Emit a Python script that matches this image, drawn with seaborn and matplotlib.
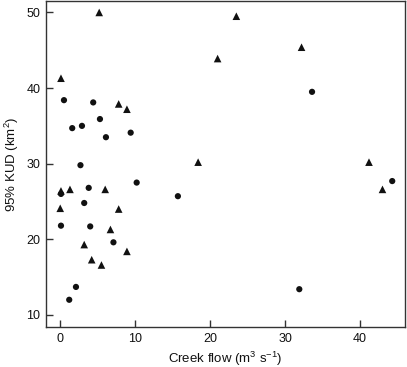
import matplotlib
matplotlib.use("Agg")
import matplotlib.pyplot as plt
import seaborn as sns
import pandas as pd

# Triangles (series A)
tri_x = [5.2, 23.5, 0.1, 32.2, 21.0, 7.8, 8.9, 18.4, 41.2, 43.0, 0.0, 1.3, 6.0,
         7.8, 6.7, 3.2, 8.9, 4.2, 5.5, 0.1]
tri_y = [50.0, 49.5, 41.3, 45.4, 43.9, 37.9, 37.2, 30.2, 30.2, 26.6, 24.1, 26.6, 26.6,
         24.0, 21.3, 19.3, 18.4, 17.3, 16.6, 26.4]
# Circles (series B)
cir_x = [0.5, 4.4, 5.3, 1.6, 2.9, 6.1, 9.4, 2.7, 10.2, 3.8, 3.2, 0.1, 0.1, 4.0,
         7.1, 2.1, 1.2, 15.7, 33.6, 44.3, 31.9]
cir_y = [38.4, 38.1, 35.9, 34.7, 35.0, 33.5, 34.1, 29.8, 27.5, 26.8, 24.8, 26.0, 21.8, 21.7,
         19.6, 13.7, 12.0, 25.7, 39.5, 27.7, 13.4]

x_ticks = [0, 10, 20, 30, 40]
y_ticks = [10, 20, 30, 40, 50]

sns.set_style("white")
plt.rcParams['font.family'] = ['Liberation Sans', 'DejaVu Sans']
plt.rcParams['mathtext.default'] = 'regular'

df = pd.DataFrame({
    "flow": tri_x + cir_x,
    "kud": tri_y + cir_y,
    "group": ["A"] * len(tri_x) + ["B"] * len(cir_x),
})

fig = plt.figure(figsize=(4.07, 3.67), dpi=100)
ax = fig.add_axes([0.113, 0.109, 0.882, 0.888])

sns.scatterplot(data=df, x="flow", y="kud", style="group",
                markers={"A": "^", "B": "o"}, size="group",
                sizes={"A": 30, "B": 20},
                color="#111111", edgecolor="none", linewidth=0,
                legend=False, ax=ax)

ax.set_xlim(-1.9, 46.0)
ax.set_ylim(8.4, 51.5)
ax.set_xticks(x_ticks)
ax.set_yticks(y_ticks)
ax.tick_params(bottom=True, left=True, top=False, right=False,
               direction="in", length=5, width=1, colors="#333333",
               labelcolor="#111111", labelsize=9, pad=4)
for s in ax.spines.values():
    s.set_visible(True)
    s.set_color("#333333")
    s.set_linewidth(1)
ax.set_xlabel("Creek flow (m$^3$ s$^{-1}$)", fontsize=9.5, color="#111111", labelpad=4)
ax.set_ylabel("95% KUD (km$^2$)", fontsize=9.5, color="#111111", labelpad=4)

fig.savefig("out.png", dpi=100)
